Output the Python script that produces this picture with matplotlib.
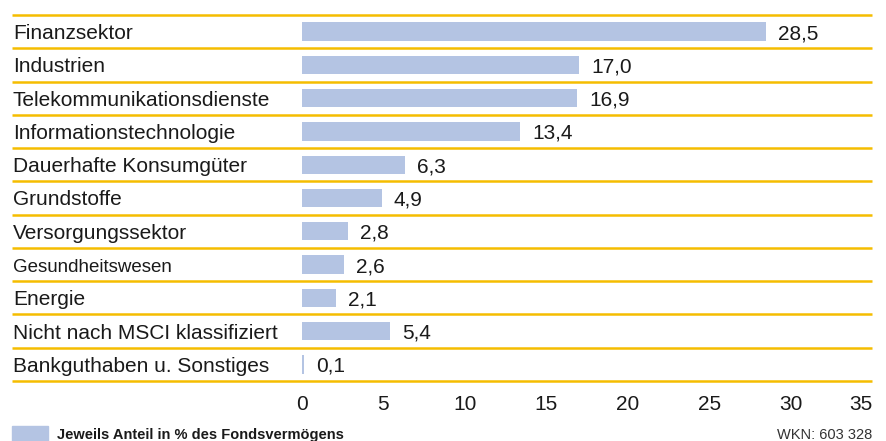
import matplotlib.pyplot as plt
from matplotlib.patches import Rectangle

plt.rcParams['font.family'] = ['Liberation Sans', 'DejaVu Sans']

categories = ['Finanzsektor', 'Industrien', 'Telekommunikationsdienste',
              'Informationstechnologie', 'Dauerhafte Konsumgüter', 'Grundstoffe',
              'Versorgungssektor', 'Gesundheitswesen', 'Energie',
              'Nicht nach MSCI klassifiziert', 'Bankguthaben u. Sonstiges']
values = [28.5, 17.0, 16.9, 13.4, 6.3, 4.9, 2.8, 2.6, 2.1, 5.4, 0.1]
ticks = [0, 5, 10, 15, 20, 25, 30, 35]

bar_color = '#b4c4e3'
line_color = '#f5bd00'
text_color = '#1a1a1a'

fig = plt.figure(figsize=(8.86, 4.41), dpi=100)
# axes spans the whole width of the yellow rules; data zero sits at x=302px
ax = fig.add_axes([12 / 886, (441 - 381) / 441, 860 / 886, 366 / 441])
ax.set_xlim(-17.8, 35)
ax.set_ylim(len(categories), 0)
ax.axis('off')

y = [i + 0.5 for i in range(len(categories))]
ax.barh(y, values, height=0.55, color=bar_color, left=0)

for i in range(len(categories) + 1):
    ax.axhline(i, color=line_color, lw=1.8, clip_on=False, solid_capstyle='butt')

off = 0.225  # baseline offset below row centre
for yi, cat, v in zip(y, categories, values):
    fs = 13.5 if cat == 'Gesundheitswesen' else 15
    ax.text(-17.75, yi + off, cat, va='baseline', ha='left', fontsize=fs, color=text_color)
    ax.text(v + 0.75, yi + off, f'{v:.1f}'.replace('.', ','), va='baseline', ha='left',
            fontsize=15, color=text_color)

for t in ticks:
    ha = 'right' if t == ticks[-1] else 'center'
    ax.text(t, len(categories) + 0.87, str(t), ha=ha, va='baseline',
            fontsize=15, color=text_color, clip_on=False)

fig.patches.append(Rectangle((12 / 886, 0), 36 / 886, 15 / 441,
                             transform=fig.transFigure, color=bar_color))
fig.text(57 / 886, 6 / 441, 'Jeweils Anteil in % des Fondsvermögens',
         fontsize=10.5, fontweight='bold', va='center', ha='left', color=text_color)
fig.text(872 / 886, 6 / 441, 'WKN: 603 328', fontsize=10.5, va='center',
         ha='right', color='#333333')

fig.savefig('out.png', dpi=100)
